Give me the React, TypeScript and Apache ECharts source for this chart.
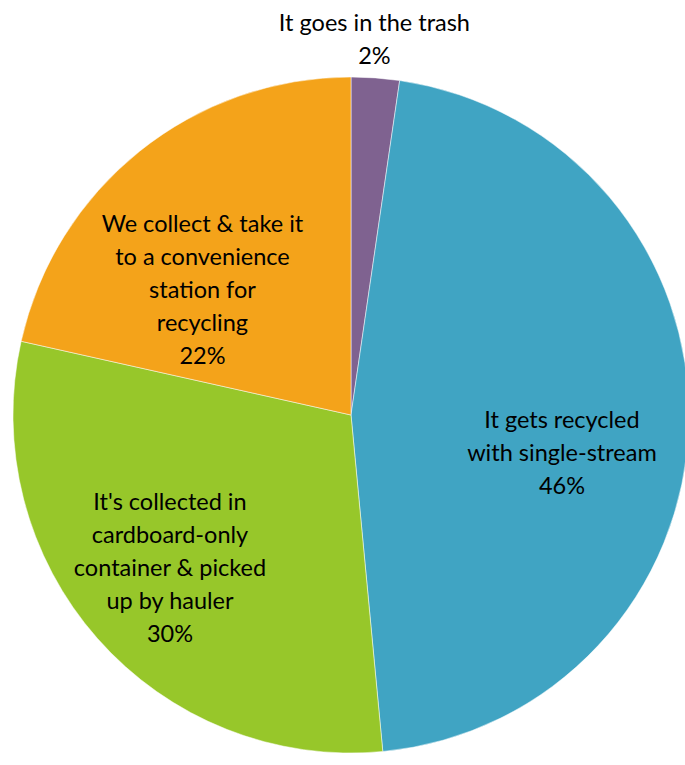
import React, { useEffect, useRef } from "react";
import * as echarts from "echarts";

const categories = [
  "It goes in the trash",
  "It gets recycled\nwith single-stream",
  "It's collected in\ncardboard-only\ncontainer & picked\nup by hauler",
  "We collect & take it\nto a convenience\nstation for\nrecycling",
];
const values = [2.3, 46.2, 30.0, 21.5];
const colors = ["#7f6290", "#40a4c3", "#97c72a", "#f4a31a"];
const labelShift = [
  [11, -205],
  [39, 33],
  [-52, 38],
  [-41, 8],
];

export default function App() {
  const ref = useRef<HTMLDivElement>(null);
  useEffect(() => {
    document.body.style.margin = "0";
    const chart = echarts.init(ref.current!, null, { renderer: "svg" });
    chart.setOption({
      animation: false,
      backgroundColor: "#ffffff",
      series: [
        {
          type: "pie",
          center: [351, 415],
          radius: 338,
          startAngle: 90,
          clockwise: true,
          avoidLabelOverlap: false,
          itemStyle: { borderColor: "#ffffff", borderWidth: 0.5 },
          label: {
            show: true,
            position: "inside",
            color: "#000000",
            fontFamily: "Lato",
            fontSize: 23.5,
            lineHeight: 33,
            align: "center",
            textBorderWidth: 0,
            formatter: (p: any) => `${p.name}\n${Math.round(p.percent)}%`,
          },
          labelLine: { show: false },
          labelLayout: (p: any) => ({
            dx: labelShift[p.dataIndex][0],
            dy: labelShift[p.dataIndex][1],
          }),
          emphasis: { disabled: true },
          data: categories.map((c, i) => ({
            name: c,
            value: values[i],
            itemStyle: { color: colors[i] },
          })),
        },
      ],
    });
    return () => chart.dispose();
  }, []);
  return (
    <div
      ref={ref}
      style={{ position: "fixed", left: 0, top: 0, width: 685, height: 765 }}
    />
  );
}
